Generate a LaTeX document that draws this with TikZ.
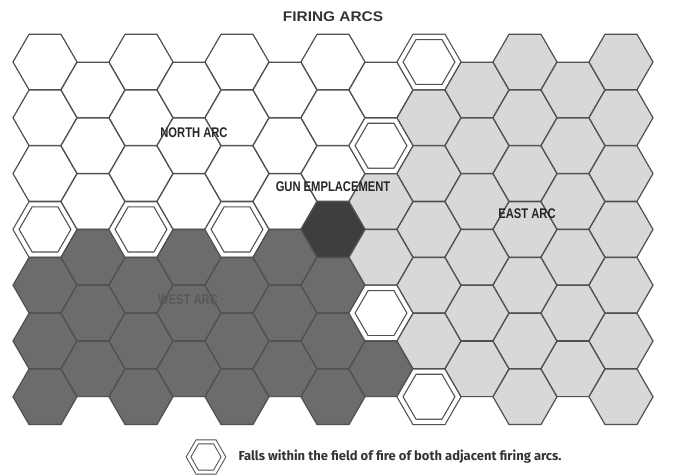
\documentclass[tikz,border=0pt]{standalone}
\usepackage{fontspec}
\setmainfont{Liberation Sans}
\newfontfamily\headfont[FakeStretch=1.1]{Liberation Sans}
\newfontfamily\arcfont[FakeStretch=0.8]{Liberation Sans}
\newfontfamily\notefont{Fira Sans}
\usetikzlibrary{shapes.geometric}

\definecolor{hexline}{RGB}{80,80,80}
\definecolor{eastgray}{RGB}{216,216,216}
\definecolor{westgray}{RGB}{108,108,108}
\definecolor{gungray}{RGB}{62,62,62}

\begin{document}
\begin{tikzpicture}[x=1pt, y=-1pt,
        hex/.style = {regular polygon, regular polygon sides=6, minimum size=64pt, inner sep=0pt, outer sep=0pt, draw=hexline, line width=1.2pt},
        hexw/.style = {hex, fill=white},
        hexl/.style = {hex, fill=eastgray},
        hexk/.style = {hex, fill=westgray},
        hexg/.style = {hex, fill=gungray},
        hexd/.style = {hex, fill=white, minimum size=58pt, double=white, double distance=4pt},
        arclabel/.style = {font=\arcfont\bfseries\fontsize{14}{14}\selectfont, text=black!85}
    ]
    \useasboundingbox (0,0) rectangle (673,476);

    % ================= TITLE =================
    \node[font=\headfont\bfseries\fontsize{14}{14}\selectfont, text=black!80] (title) at (333, 17) {FIRING ARCS};

    % ================= HEX GRID (column by column) =================
    \foreach \c/\cells in {0/{w,w,w,d,k,k,k}, 1/{w,w,w,k,k,k}, 2/{w,w,w,d,k,k,k},
                            3/{w,w,w,k,k,k}, 4/{w,w,w,d,k,k,k}, 5/{w,w,w,k,k,k},
                            6/{w,w,w,g,k,k,k}, 7/{w,d,l,l,d,k}, 8/{d,l,l,l,l,l,d},
                            9/{l,l,l,l,l,l}, 10/{l,l,l,l,l,l,l}, 11/{l,l,l,l,l,l},
                            12/{l,l,l,l,l,l,l}}
        \foreach \t [count=\r from 0] in \cells {
            \pgfmathsetmacro{\hx}{45 + 48*\c}
            \pgfmathsetmacro{\hy}{62 + 55.8*\r + 27.9*mod(\c,2)}
            \node[hex\t] (h-\c-\r) at (\hx, \hy) {};
        }

    % ================= ARC LABELS =================
    \node[arclabel] (north) at (194, 133) {NORTH ARC};
    \node[arclabel] (gun) at (333, 187) {GUN EMPLACEMENT};
    \node[arclabel] (east) at (527, 214) {EAST ARC};
    \node[arclabel, text=black!65] (west) at (188, 300) {WEST ARC};

    % ================= LEGEND =================
    \node[hexd, minimum size=35pt, double distance=3pt, line width=1pt] (key) at (206, 457) {};
    \node[font=\notefont\bfseries\fontsize{13}{13}\selectfont, text=black!80, anchor=west] (keytext) at (235, 457) {Falls within the field of fire of both adjacent firing arcs.};

    \end{tikzpicture}
\end{document}
